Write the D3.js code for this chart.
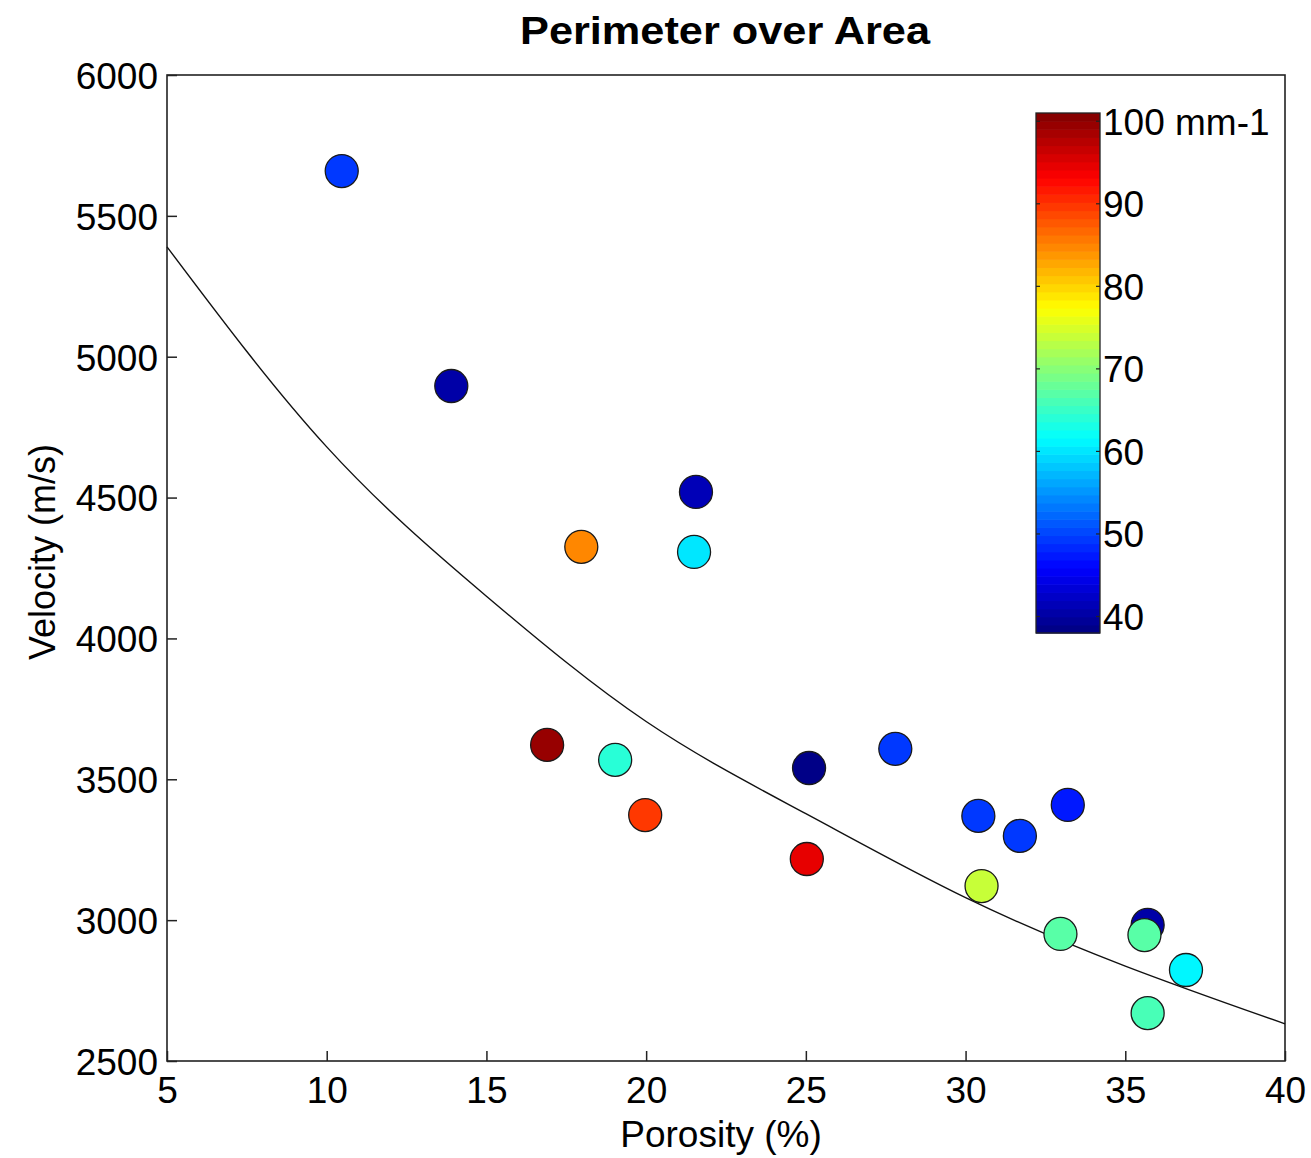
<!DOCTYPE html>
<html>
<head>
<meta charset="utf-8">
<script src="https://cdn.jsdelivr.net/npm/d3@7"></script>
<style>
  html, body { margin: 0; padding: 0; background: #fff; }
  svg { display: block; }
  text { font-family: "Liberation Sans", Arial, Helvetica, sans-serif; fill: #000; }
</style>
</head>
<body>
<svg id="chart" width="1311" height="1158"></svg>
<script>
// ---- data ----
const porosity = [10.47, 13.9, 21.56, 17.97, 21.5, 16.9, 19.03, 19.97, 25.1, 25.03, 27.8, 30.4, 31.7, 33.2, 30.5, 32.97, 35.7, 35.6, 36.9, 35.7];
const velocity = [5659, 4896, 4520, 4325, 4307, 3622, 3569, 3373, 3540, 3217, 3608, 3370, 3299, 3409, 3121, 2951, 2983, 2947, 2823, 2670];
const perimOverArea = [49.5, 40, 41, 84.5, 60, 100, 64, 90, 38.5, 95, 49, 49, 49.5, 47.5, 73.5, 67, 40, 67, 61, 66.5];

const fitPorosity = [5, 10, 15, 20, 25, 30, 35, 40];
const fitVelocity = [5390, 4680, 4150, 3705, 3378, 3080, 2837, 2632];

const xTicks = [5, 10, 15, 20, 25, 30, 35, 40];
const yTicks = [2500, 3000, 3500, 4000, 4500, 5000, 5500, 6000];
const cTicks = [40, 50, 60, 70, 80, 90, 100];
const cTickLabels = ["40", "50", "60", "70", "80", "90", "100 mm-1"];
const cLimits = [38, 101];

const titleText = "Perimeter over Area";
const xLabel = "Porosity (%)";
const yLabel = "Velocity (m/s)";

// ---- layout ----
const L = 167, R = 1285, T = 75, B = 1061;
const svg = d3.select("#chart");
const x = d3.scaleLinear().domain([5, 40]).range([L, R]);
const y = d3.scaleLinear().domain([2500, 6000]).range([B, T]);

// jet colormap (64 levels, MATLAB style)
function jet(t) {
  const c = v => Math.max(0, Math.min(1, v));
  const r = c(1.5 - Math.abs(4 * t - 3));
  const g = c(1.5 - Math.abs(4 * t - 2));
  const b = c(1.5 - Math.abs(4 * t - 1));
  return d3.rgb(r * 255, g * 255, b * 255).toString();
}
const N = 64;
const cNorm = d3.scaleLinear().domain(cLimits).range([0, 1]).clamp(true);
function colorOf(v) {
  let i = Math.floor(cNorm(v) * N);
  i = Math.max(0, Math.min(N - 1, i));
  return jet((i + 0.5) / N);
}

// axes box
svg.append("rect").attr("x", L).attr("y", T).attr("width", R - L).attr("height", B - T)
  .attr("fill", "none").attr("stroke", "#222").attr("stroke-width", 1.6);

// x ticks
const xAxis = d3.axisBottom(x).tickValues(xTicks).tickFormat(d3.format("d")).tickSizeInner(-10).tickSizeOuter(0).tickPadding(0);
const gx = svg.append("g").attr("transform", `translate(0,${B})`).call(xAxis);
gx.select(".domain").remove();
gx.selectAll(".tick line").attr("stroke", "#222").attr("stroke-width", 1.5);
gx.selectAll(".tick text").attr("y", 42).attr("dy", 0).attr("font-size", 37).attr("fill", "#000")
  .style("font-family", '"Liberation Sans", Arial, sans-serif');

// y ticks
const yAxis = d3.axisLeft(y).tickValues(yTicks).tickFormat(d3.format("d")).tickSizeInner(-10).tickSizeOuter(0).tickPadding(0);
const gy = svg.append("g").attr("transform", `translate(${L},0)`).call(yAxis);
gy.select(".domain").remove();
gy.selectAll(".tick line").attr("stroke", "#222").attr("stroke-width", 1.5);
gy.selectAll(".tick text").attr("x", -9).attr("dy", "0.36em").attr("font-size", 37).attr("fill", "#000")
  .style("font-family", '"Liberation Sans", Arial, sans-serif');

// fit curve
const line = d3.line().x((d, i) => x(fitPorosity[i])).y((d, i) => y(fitVelocity[i])).curve(d3.curveNatural);
svg.append("path").datum(fitVelocity).attr("d", line)
  .attr("fill", "none").attr("stroke", "#111").attr("stroke-width", 1.4);

// points
const pts = porosity.map((p, i) => ({ p, v: velocity[i], c: perimOverArea[i] }));
svg.append("g").selectAll("circle").data(pts).join("circle")
  .attr("cx", d => x(d.p)).attr("cy", d => y(d.v)).attr("r", 16.5)
  .attr("fill", d => colorOf(d.c)).attr("stroke", "#1a1a1a").attr("stroke-width", 1.3);

// colorbar
const cbX = 1036, cbW = 64, cbTop = 113, cbBot = 633;
const cy = d3.scaleLinear().domain(cLimits).range([cbBot, cbTop]);
const levels = d3.range(N);
const step = (cLimits[1] - cLimits[0]) / N;
svg.append("g").selectAll("rect").data(levels).join("rect")
  .attr("x", cbX)
  .attr("y", i => cy(cLimits[0] + (i + 1) * step))
  .attr("width", cbW)
  .attr("height", i => cy(cLimits[0] + i * step) - cy(cLimits[0] + (i + 1) * step) + 0.6)
  .attr("fill", i => jet((i + 0.5) / N));
svg.append("rect").attr("x", cbX).attr("y", cbTop).attr("width", cbW).attr("height", cbBot - cbTop)
  .attr("fill", "none").attr("stroke", "#222").attr("stroke-width", 1.3);
const cbt = svg.append("g");
cbt.selectAll("line.l").data(cTicks).join("line").attr("class", "l")
  .attr("x1", cbX).attr("x2", cbX + 4).attr("y1", d => cy(d)).attr("y2", d => cy(d))
  .attr("stroke", "#222").attr("stroke-width", 1.2);
cbt.selectAll("line.r").data(cTicks).join("line").attr("class", "r")
  .attr("x1", cbX + cbW - 4).attr("x2", cbX + cbW).attr("y1", d => cy(d)).attr("y2", d => cy(d))
  .attr("stroke", "#222").attr("stroke-width", 1.2);
cbt.selectAll("text").data(cTicks).join("text")
  .attr("x", cbX + cbW + 3).attr("y", d => cy(d)).attr("dy", "0.36em")
  .attr("font-size", 37).text((d, i) => cTickLabels[i]);

// titles
svg.append("text").attr("x", 520).attr("y", 44).attr("font-size", 39).attr("font-weight", "bold")
  .attr("textLength", 410).attr("lengthAdjust", "spacingAndGlyphs").text(titleText);
svg.append("text").attr("x", 721).attr("y", 1147).attr("text-anchor", "middle").attr("font-size", 37).text(xLabel);
svg.append("text").attr("transform", "translate(55,552) rotate(-90)").attr("text-anchor", "middle")
  .attr("font-size", 36).text(yLabel);
</script>
</body>
</html>
